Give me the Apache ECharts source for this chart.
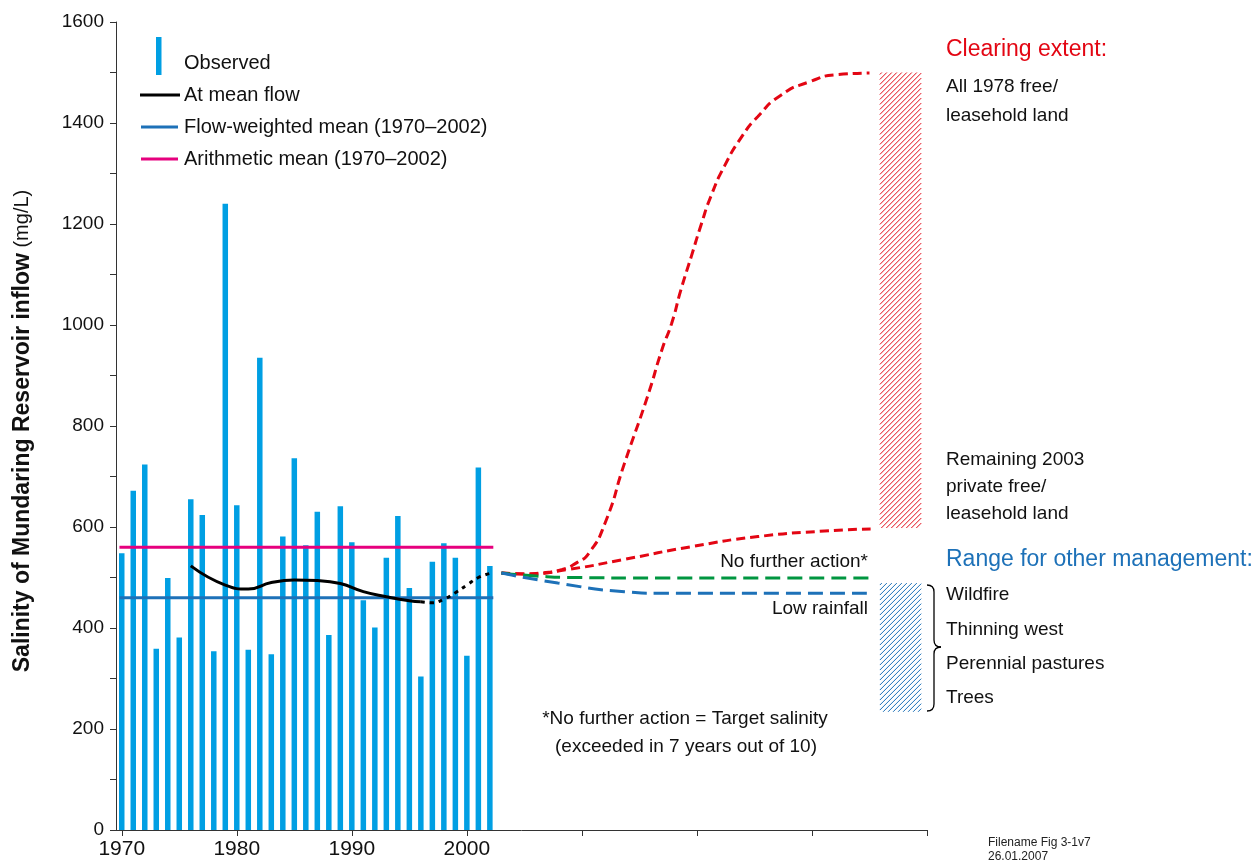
<!DOCTYPE html>
<html>
<head>
<meta charset="utf-8">
<script src="https://cdn.jsdelivr.net/npm/echarts@6/dist/echarts.min.js"></script>
<style>
  html, body { margin: 0; padding: 0; background: #fff; }
  #chart { width: 1256px; height: 863px; }
</style>
</head>
<body>
<div id="chart"></div>
<script>
// Observed annual salinity (mg/L)
const years = [1970, 1971, 1972, 1973, 1974, 1975, 1976, 1977, 1978, 1979, 1980,
  1981, 1982, 1983, 1984, 1985, 1986, 1987, 1988, 1989, 1990, 1991, 1992,
  1993, 1994, 1995, 1996, 1997, 1998, 1999, 2000, 2001, 2002];
const observed = [548, 672, 724, 359, 499, 381, 655, 624, 354, 1240, 643,
  357, 935, 348, 581, 736, 564, 630, 386, 641, 570, 455, 401,
  539, 622, 479, 304, 531, 568, 539, 345, 718, 523];

// means over 1970-2002
const meanSpan = [1969.8, 2002.3];
const arithmeticMean = 560;
const flowWeightedMean = 460;

// salinity at mean flow (solid part, then dotted tail)
const meanFlow = [[1976, 523], [1979, 485], [1981, 477], [1983, 490], [1985, 495],
  [1987, 494], [1989, 488], [1991, 472], [1993, 462], [1995, 454], [1996, 452]];
const meanFlowTail = [[1996, 452], [1997, 450], [1998, 457], [1999, 470],
  [2000, 485], [2001, 500], [2002, 508]];

// projections
const clearing1978 = [[2003, 509], [2005, 507], [2006.5, 509], [2008.3, 516],
  [2009.6, 530], [2010.6, 548], [2012, 607], [2013.7, 726], [2015.7, 858],
  [2017, 954], [2017.8, 1003], [2018.6, 1069], [2019.5, 1135], [2020.4, 1201],
  [2021.2, 1254], [2022.4, 1315], [2023.9, 1373], [2025.3, 1413], [2027.3, 1455],
  [2029.7, 1481], [2032.3, 1496], [2035, 1499]];
const remaining2003 = [[2003, 509], [2005, 507], [2008.8, 516], [2013.7, 536],
  [2019.5, 561], [2025.3, 581], [2031.1, 592], [2035.1, 596]];
const noFurtherAction = [[2003, 509], [2006, 503], [2009.4, 500], [2016.6, 499],
  [2035.1, 499]];
const lowRainfall = [[2003, 509], [2007.9, 489], [2013.7, 472], [2016.6, 469],
  [2035.1, 469]];

// ranges: [x from, x to, low, high]
const clearingRange = [2035.9, 2039.5, 598, 1500];
const managementRange = [2035.9, 2039.5, 234, 489];

// separator rules on the right
const ruleSpan = [2040.2, 2057.3];
const ruleLevels = [1500, 596];

const xTicks = [1970, 1980, 1990, 2000, 2010, 2020, 2030, 2040];
const xLabels = [1970, 1980, 1990, 2000];

const FONT = '"Liberation Sans", Arial, sans-serif';
const RED = '#e30613';
const BLUE = '#1d71b8';

const chart = echarts.init(document.getElementById('chart'));

const dashed = (name, data, color, dash) => ({
  name: name,
  type: 'line',
  data: data,
  smooth: 0.6,
  symbol: 'none',
  lineStyle: { color: color, width: 3, type: dash },
  z: 4
});

// diagonal "/" hatch lines inside a pixel rect
function hatchLines(x0, y0, x1, y1, color) {
  const lines = [];
  for (let c = x0 + y0 + 2; c < x1 + y1; c += 5) {
    const xa = Math.max(x0, c - y1);
    const xb = Math.min(x1, c - y0);
    if (xb <= xa) continue;
    lines.push({
      type: 'line',
      shape: { x1: xa, y1: c - xa, x2: xb, y2: c - xb },
      style: { stroke: color, lineWidth: 1 }
    });
  }
  return lines;
}

// curly brace next to the management list
const braceStyle = { stroke: '#000', lineWidth: 1.3, fill: null };
const brace = [
  { type: 'bezierCurve', shape: { x1: 927, y1: 585, x2: 934, y2: 592, cpx1: 934, cpy1: 585 } },
  { type: 'line', shape: { x1: 934, y1: 592, x2: 934, y2: 640 } },
  { type: 'bezierCurve', shape: { x1: 934, y1: 640, x2: 941, y2: 647, cpx1: 934, cpy1: 647 } },
  { type: 'bezierCurve', shape: { x1: 941, y1: 647, x2: 934, y2: 654, cpx1: 934, cpy1: 647 } },
  { type: 'line', shape: { x1: 934, y1: 654, x2: 934, y2: 704 } },
  { type: 'bezierCurve', shape: { x1: 934, y1: 704, x2: 927, y2: 711, cpx1: 934, cpy1: 711 } }
].map(el => Object.assign(el, { style: braceStyle }));

const option = {
  animation: false,
  grid: { left: 116, right: 329, top: 22, bottom: 33 },
  xAxis: {
    type: 'value',
    min: 1969.5,
    max: 2040,
    splitLine: { show: false },
    axisLine: { show: true, lineStyle: { color: '#333', width: 1 } },
    axisTick: { show: true, length: 6, customValues: xTicks, lineStyle: { color: '#333' } },
    axisLabel: {
      customValues: xLabels,
      formatter: v => String(v),
      fontFamily: FONT,
      fontSize: 21,
      color: '#111',
      margin: 9
    }
  },
  yAxis: {
    type: 'value',
    min: 0,
    max: 1600,
    interval: 100,
    splitLine: { show: false },
    axisLine: { show: true, lineStyle: { color: '#333', width: 1 } },
    axisTick: { show: true, length: 6, lineStyle: { color: '#333' } },
    axisLabel: {
      formatter: v => (v % 200 === 0 ? String(v) : ''),
      fontFamily: FONT,
      fontSize: 19,
      color: '#111',
      margin: 12
    },
    name: '{b|Salinity of Mundaring Reservoir inflow}{r| (mg/L)}',
    nameLocation: 'middle',
    nameRotate: 90,
    nameGap: 82,
    nameTextStyle: {
      padding: [0, 10, 0, 0],
      rich: {
        b: { fontFamily: FONT, fontSize: 23, fontWeight: 'bold', color: '#111' },
        r: { fontFamily: FONT, fontSize: 20, color: '#111' }
      }
    }
  },
  series: [
    {
      name: 'Observed',
      type: 'bar',
      data: years.map((y, i) => [y, observed[i]]),
      barWidth: 5.5,
      clip: false,
      itemStyle: { color: '#009fe3' },
      z: 2
    },
    {
      name: 'Arithmetic mean (1970–2002)',
      type: 'line',
      data: meanSpan.map(x => [x, arithmeticMean]),
      symbol: 'none',
      clip: false,
      lineStyle: { color: '#e6007e', width: 3 },
      z: 3
    },
    {
      name: 'Flow-weighted mean (1970–2002)',
      type: 'line',
      data: meanSpan.map(x => [x, flowWeightedMean]),
      symbol: 'none',
      clip: false,
      lineStyle: { color: BLUE, width: 3 },
      z: 3
    },
    {
      name: 'At mean flow',
      type: 'line',
      data: meanFlow,
      smooth: 0.5,
      symbol: 'none',
      lineStyle: { color: '#000', width: 3 },
      z: 5
    },
    {
      name: 'At mean flow tail',
      type: 'line',
      data: meanFlowTail,
      smooth: 0.5,
      symbol: 'none',
      lineStyle: { color: '#000', width: 3, type: [4, 5] },
      z: 5
    },
    dashed('Clearing 1978', clearing1978, RED, [9, 5]),
    dashed('Remaining 2003', remaining2003, RED, [9, 5]),
    dashed('No further action', noFurtherAction, '#009640', [15, 7]),
    dashed('Low rainfall', lowRainfall, BLUE, [15, 7]),
    {
      name: 'Ranges',
      type: 'custom',
      data: [clearingRange, managementRange],
      renderItem: (params, api) => {
        const p0 = api.coord([api.value(0), api.value(3)]);
        const p1 = api.coord([api.value(1), api.value(2)]);
        const color = params.dataIndex === 0 ? RED : BLUE;
        return {
          type: 'group',
          children: hatchLines(p0[0], p0[1], p1[0], p1[1], color)
        };
      },
      z: 1
    },
    ...ruleLevels.map(level => ({
      name: 'rule ' + level,
      type: 'line',
      data: ruleSpan.map(x => [x, level]),
      symbol: 'none',
      clip: false,
      lineStyle: { color: '#000', width: 1.2 },
      z: 3
    }))
  ],
  graphic: [
    // legend
    { type: 'rect', shape: { x: 156, y: 37, width: 5.5, height: 38 }, style: { fill: '#009fe3' } },
    { type: 'line', shape: { x1: 140, y1: 95, x2: 180, y2: 95 }, style: { stroke: '#000', lineWidth: 3 } },
    { type: 'line', shape: { x1: 141, y1: 127, x2: 178, y2: 127 }, style: { stroke: BLUE, lineWidth: 3 } },
    { type: 'line', shape: { x1: 141, y1: 159, x2: 178, y2: 159 }, style: { stroke: '#e6007e', lineWidth: 3 } },
    ...[
      ['Observed', 63], ['At mean flow', 95],
      ['Flow-weighted mean (1970–2002)', 127], ['Arithmetic mean (1970–2002)', 159]
    ].map(([t, y]) => ({
      type: 'text', x: 184, y: y,
      style: { text: t, font: '20px ' + FONT, fill: '#111', textVerticalAlign: 'middle' }
    })),
    // right hand notes
    { type: 'text', x: 946, y: 50, style: { text: 'Clearing extent:', font: '23px ' + FONT, fill: RED, textVerticalAlign: 'middle' } },
    { type: 'text', x: 946, y: 560, style: { text: 'Range for other management:', font: '23px ' + FONT, fill: BLUE, textVerticalAlign: 'middle' } },
    ...[
      ['All 1978 free/', 87], ['leasehold land', 116],
      ['Remaining 2003', 460], ['private free/', 487], ['leasehold land', 514],
      ['Wildfire', 595], ['Thinning west', 630], ['Perennial pastures', 664], ['Trees', 698]
    ].map(([t, y]) => ({
      type: 'text', x: 946, y: y,
      style: { text: t, font: '19px ' + FONT, fill: '#111', textVerticalAlign: 'middle' }
    })),
    ...brace,
    { type: 'text', x: 868, y: 562, style: { text: 'No further action*', font: '19px ' + FONT, fill: '#111', textAlign: 'right', textVerticalAlign: 'middle' } },
    { type: 'text', x: 868, y: 609, style: { text: 'Low rainfall', font: '19px ' + FONT, fill: '#111', textAlign: 'right', textVerticalAlign: 'middle' } },
    { type: 'text', x: 685, y: 719, style: { text: '*No further action = Target salinity', font: '19px ' + FONT, fill: '#111', textAlign: 'center', textVerticalAlign: 'middle' } },
    { type: 'text', x: 686, y: 747, style: { text: '(exceeded in 7 years out of 10)', font: '19px ' + FONT, fill: '#111', textAlign: 'center', textVerticalAlign: 'middle' } },
    { type: 'text', x: 988, y: 843, style: { text: 'Filename Fig 3-1v7', font: '12px ' + FONT, fill: '#222', textVerticalAlign: 'middle' } },
    { type: 'text', x: 988, y: 857, style: { text: '26.01.2007', font: '12px ' + FONT, fill: '#222', textVerticalAlign: 'middle' } }
  ]
};

chart.setOption(option);
</script>
</body>
</html>
